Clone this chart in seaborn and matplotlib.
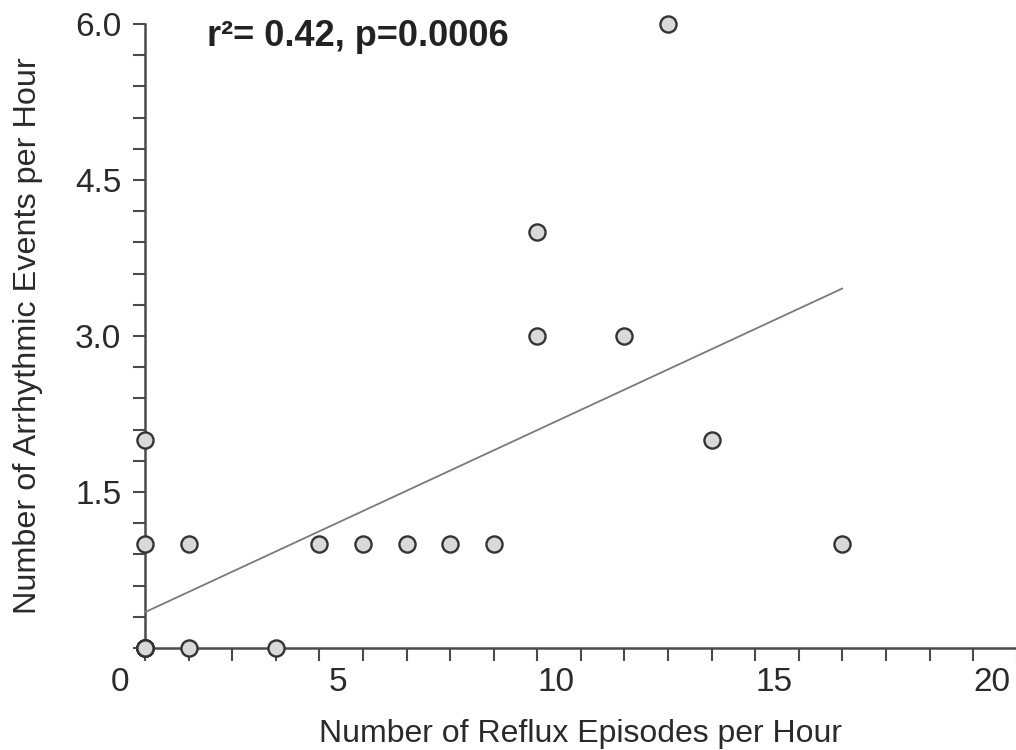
import numpy as np
import pandas as pd
import seaborn as sns
import matplotlib.pyplot as plt
from matplotlib.ticker import FixedLocator, MultipleLocator
from matplotlib.transforms import ScaledTranslation

# data (several patients stacked at 0,0)
reflux_per_hour = [0, 0, 0, 0, 0, 0, 0, 0, 1, 1, 3, 4, 5, 6, 7, 8, 9, 9, 11, 12, 13, 16]
arrhythmic_per_hour = [0, 0, 0, 0, 0, 0, 1, 2, 0, 1, 0, 1, 1, 1, 1, 1, 3, 4, 3, 6, 2, 1]

x_tick_labels = [0, 5, 10, 15, 20]
y_tick_labels = [1.5, 3.0, 4.5, 6.0]
stats_text = "r\u00b2= 0.42, p=0.0006"

df = pd.DataFrame({"reflux": reflux_per_hour, "arrhythmic": arrhythmic_per_hour})

sns.set_style("ticks")
plt.rcParams["font.family"] = ["Liberation Sans", "DejaVu Sans"]

grey = "#4a4a4a"
fig = plt.figure(figsize=(10.16, 7.5), dpi=100)
ax = fig.add_axes([0.1427, 0.136, 0.858, 0.832])

sns.regplot(
    data=df, x="reflux", y="arrhythmic", ax=ax, ci=None,
    scatter_kws=dict(s=135, color="#d9d9d9", edgecolors="#333333", linewidths=1.7,
                     alpha=1, clip_on=False, zorder=4),
    line_kws=dict(color="#7a7a7a", lw=1.3, zorder=3),
)

ax.set_xlim(0, 20)
ax.set_ylim(0, 6)

ax.xaxis.set_major_locator(FixedLocator(x_tick_labels))
ax.xaxis.set_minor_locator(MultipleLocator(1))
ax.yaxis.set_major_locator(FixedLocator(y_tick_labels))
ax.yaxis.set_minor_locator(MultipleLocator(0.3))
ax.set_yticklabels([f"{v:.1f}" for v in y_tick_labels])

ax.tick_params(which="both", direction="out", length=9, width=1.5, color=grey,
               labelsize=24, labelcolor="#2a2a2a")
ax.tick_params(axis="x", pad=5)
ax.tick_params(axis="y", pad=8)

sns.despine(ax=ax)
for side in ["left", "bottom"]:
    ax.spines[side].set_color(grey)
    ax.spines[side].set_linewidth(1.8)

# the x labels sit a little left of their ticks in the original
shift = ScaledTranslation(-0.25, 0, fig.dpi_scale_trans)
for tick in ax.xaxis.get_major_ticks():
    tick.label1.set_transform(tick.label1.get_transform() + shift)

ax.set_xlabel("Number of Reflux Episodes per Hour", fontsize=23, color="#2a2a2a", labelpad=15)
ax.set_ylabel("Number of Arrhythmic Events per Hour", fontsize=23.3, color="#2a2a2a", labelpad=23)

ax.text(1.42, 5.88, stats_text, fontsize=26, fontweight="bold", color="#222222",
        ha="left", va="center")

fig.savefig("out.png", dpi=100)
